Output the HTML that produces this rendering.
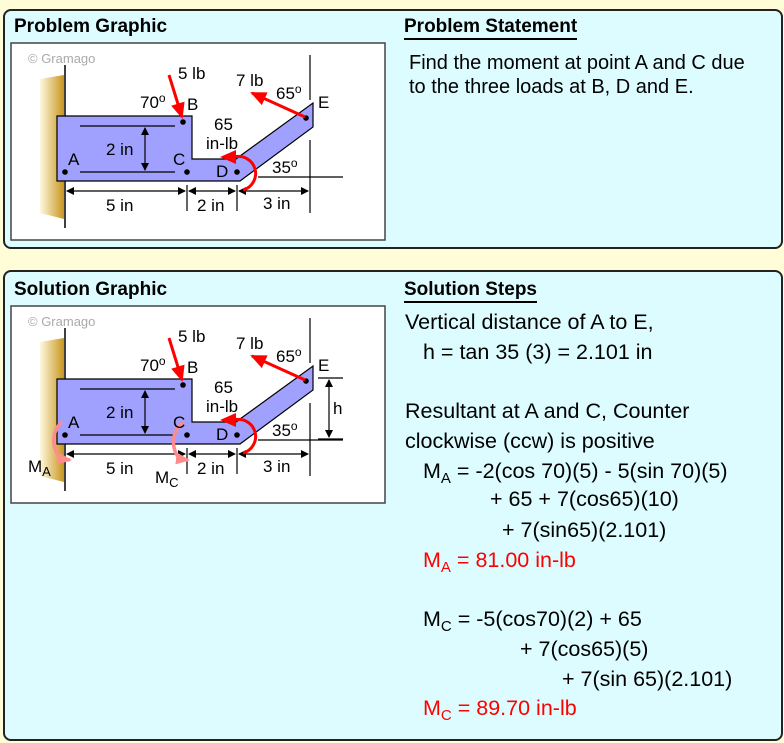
<!DOCTYPE html>
<html><head><meta charset="utf-8"><style>
body{margin:0;width:784px;height:743px;background:#fffcd8;position:relative;overflow:hidden;font-family:"Liberation Sans",Arial,sans-serif;}
.panel{position:absolute;left:3px;width:776px;background:#dcfcff;border:2px solid #222;border-radius:8px;}
.t{position:absolute;font-size:21.5px;color:#000;white-space:nowrap;}
.s{font-size:20px;}
.h{position:absolute;font-weight:bold;font-size:19px;}
.u{border-bottom:2px solid #000;padding-bottom:0px;}
.r{color:#f00;}
sub{font-size:15px;vertical-align:-5px;line-height:0;}
svg{position:absolute;left:0;top:0;z-index:2;}
</style></head><body>
<div class="panel" style="top:9px;height:236px;"></div>
<div class="panel" style="top:270px;height:467px;"></div>
<div class="h" style="left:14px;top:16px;">Problem Graphic</div>
<div class="h u" style="left:404px;top:16px;">Problem Statement</div>
<div class="h" style="left:14px;top:279px;">Solution Graphic</div>
<div class="h u" style="left:404px;top:279px;">Solution Steps</div>
<div class="t s" style="left:409px;top:52px;">Find the moment at point A and C due</div>
<div class="t s" style="left:409px;top:76px;">to the three loads at B, D and E.</div>

<div class="t" style="left:405px;top:310px;">Vertical distance of A to E,</div>
<div class="t" style="left:423px;top:340px;">h = tan 35 (3) = 2.101 in</div>
<div class="t" style="left:405px;top:399px;">Resultant at A and C, Counter</div>
<div class="t" style="left:405px;top:429px;">clockwise (ccw) is positive</div>
<div class="t" style="left:423px;top:459px;">M<sub>A</sub> = -2(cos 70)(5) - 5(sin 70)(5)</div>
<div class="t" style="left:490px;top:487px;">+ 65 + 7(cos65)(10)</div>
<div class="t" style="left:502px;top:518px;">+ 7(sin65)(2.101)</div>
<div class="t r" style="left:423px;top:548px;">M<sub>A</sub> = 81.00 in-lb</div>
<div class="t" style="left:423px;top:607px;">M<sub>C</sub> = -5(cos70)(2) + 65</div>
<div class="t" style="left:520px;top:637px;">+ 7(cos65)(5)</div>
<div class="t" style="left:562px;top:667px;">+ 7(sin 65)(2.101)</div>
<div class="t r" style="left:423px;top:696px;">M<sub>C</sub> = 89.70 in-lb</div>

<svg width="784" height="743" viewBox="0 0 784 743">
<defs>
<linearGradient id="wg" x1="0" x2="1"><stop offset="0" stop-color="#fff8e0"/><stop offset="1" stop-color="#c8961e"/></linearGradient>
<marker id="ar" markerWidth="8" markerHeight="8" refX="7" refY="4" orient="auto-start-reverse" markerUnits="userSpaceOnUse"><path d="M0,0L8,4L0,8z" fill="#000"/></marker>
<marker id="rr" markerWidth="16" markerHeight="14" refX="14" refY="7" orient="auto" markerUnits="userSpaceOnUse"><path d="M0,0L16,7L0,14z" fill="#f00"/></marker>
<marker id="pr" markerWidth="14" markerHeight="12" refX="12" refY="6" orient="auto" markerUnits="userSpaceOnUse"><path d="M0,0L14,6L0,12z" fill="#ff8c8c"/></marker>
</defs>
<g font-family="Liberation Sans, Arial, sans-serif">
<rect x="11" y="43" width="374" height="197" fill="#fff" stroke="#444" stroke-width="1.5"/>
<text x="28" y="63" font-size="13" fill="#aaa">© Gramago</text>
<path d="M40,79 L64,75 L64,219 L40,213 Z" fill="url(#wg)"/>
<line x1="65" y1="65" x2="65" y2="228" stroke="#000" stroke-width="1.5"/>
<path d="M57,116 L192,116 L192,159 L236,159 L240,156 L313,103 L313,127 L240,181 L57,181 Z" fill="#a0a0ff" stroke="#000" stroke-width="1.2"/>
<g stroke="#000" stroke-width="1.2">
<line x1="80" y1="126" x2="175" y2="126"/><line x1="80" y1="172" x2="175" y2="172"/>
<line x1="145" y1="128" x2="145" y2="170" marker-start="url(#ar)" marker-end="url(#ar)"/>
<line x1="67" y1="191" x2="185" y2="191" marker-start="url(#ar)" marker-end="url(#ar)"/>
<line x1="189" y1="191" x2="235" y2="191" marker-start="url(#ar)" marker-end="url(#ar)"/>
<line x1="239" y1="191" x2="308" y2="191" marker-start="url(#ar)" marker-end="url(#ar)"/>
<line x1="187" y1="185" x2="187" y2="211"/><line x1="237" y1="185" x2="237" y2="211"/>
<line x1="310" y1="55" x2="310" y2="100"/><line x1="310" y1="140" x2="310" y2="213"/>
<line x1="258" y1="177" x2="343" y2="177"/>
</g>
<g fill="#000"><circle cx="65" cy="172" r="2.8"/><circle cx="183" cy="122" r="2.8"/><circle cx="187" cy="172" r="2.8"/><circle cx="237" cy="172" r="2.8"/><circle cx="306" cy="118" r="2.8"/></g>
<line x1="169" y1="75" x2="182" y2="117" stroke="#f00" stroke-width="3" marker-end="url(#rr)"/>
<line x1="305" y1="117" x2="252" y2="93" stroke="#f00" stroke-width="3" marker-end="url(#rr)"/>
<path d="M243,190 A14,14 0 0 0 234,157 L226,157" fill="none" stroke="#f00" stroke-width="3"/>
<path d="M220,157 L236,150 L236,164 Z" fill="#f00"/>
<g font-size="17" fill="#000">
<text x="178" y="79">5 lb</text><text x="140" y="108">70<tspan font-size="12" dy="-6">o</tspan></text>
<text x="187" y="110">B</text><text x="236" y="86">7 lb</text>
<text x="276" y="99">65<tspan font-size="12" dy="-6">o</tspan></text><text x="318" y="108">E</text>
<text x="214" y="130">65</text><text x="206" y="149">in-lb</text>
<text x="106" y="155">2 in</text><text x="68" y="165">A</text><text x="173" y="165">C</text><text x="216" y="177">D</text>
<text x="272" y="173">35<tspan font-size="12" dy="-6">o</tspan></text>
<text x="106" y="211">5 in</text><text x="197" y="211">2 in</text><text x="263" y="209">3 in</text>
</g>
</g>
<g font-family="Liberation Sans, Arial, sans-serif" transform="translate(0,263)">
<rect x="11" y="43" width="374" height="197" fill="#fff" stroke="#444" stroke-width="1.5"/>
<text x="28" y="63" font-size="13" fill="#aaa">© Gramago</text>
<path d="M40,79 L64,75 L64,219 L40,213 Z" fill="url(#wg)"/>
<line x1="65" y1="65" x2="65" y2="228" stroke="#000" stroke-width="1.5"/>
<path d="M57,116 L192,116 L192,159 L236,159 L240,156 L313,103 L313,127 L240,181 L57,181 Z" fill="#a0a0ff" stroke="#000" stroke-width="1.2"/>
<g stroke="#000" stroke-width="1.2">
<line x1="80" y1="126" x2="175" y2="126"/><line x1="80" y1="172" x2="175" y2="172"/>
<line x1="145" y1="128" x2="145" y2="170" marker-start="url(#ar)" marker-end="url(#ar)"/>
<line x1="67" y1="191" x2="185" y2="191" marker-start="url(#ar)" marker-end="url(#ar)"/>
<line x1="189" y1="191" x2="235" y2="191" marker-start="url(#ar)" marker-end="url(#ar)"/>
<line x1="239" y1="191" x2="308" y2="191" marker-start="url(#ar)" marker-end="url(#ar)"/>
<line x1="187" y1="185" x2="187" y2="211"/><line x1="237" y1="185" x2="237" y2="211"/>
<line x1="310" y1="55" x2="310" y2="100"/><line x1="310" y1="140" x2="310" y2="213"/>
<line x1="258" y1="177" x2="343" y2="177"/>
<line x1="318" y1="115" x2="343" y2="115"/><line x1="318" y1="176" x2="343" y2="176"/>
<line x1="329" y1="117" x2="329" y2="174" marker-start="url(#ar)" marker-end="url(#ar)"/>
</g>
<g fill="#000"><circle cx="65" cy="172" r="2.8"/><circle cx="183" cy="122" r="2.8"/><circle cx="187" cy="172" r="2.8"/><circle cx="237" cy="172" r="2.8"/><circle cx="306" cy="118" r="2.8"/></g>
<line x1="169" y1="75" x2="182" y2="117" stroke="#f00" stroke-width="3" marker-end="url(#rr)"/>
<line x1="305" y1="117" x2="252" y2="93" stroke="#f00" stroke-width="3" marker-end="url(#rr)"/>
<path d="M243,190 A14,14 0 0 0 234,157 L226,157" fill="none" stroke="#f00" stroke-width="3"/>
<path d="M220,157 L236,150 L236,164 Z" fill="#f00"/>
<path d="M62,159 A18,22 0 0 0 62,196 L70,197" fill="none" stroke="#ff8c8c" stroke-width="3.5" marker-end="url(#pr)"/>
<path d="M184,159 A18,22 0 0 0 180,196 L188,197" fill="none" stroke="#ff8c8c" stroke-width="3.5" marker-end="url(#pr)"/>
<g font-size="17" fill="#000">
<text x="178" y="79">5 lb</text><text x="140" y="108">70<tspan font-size="12" dy="-6">o</tspan></text>
<text x="187" y="110">B</text><text x="236" y="86">7 lb</text>
<text x="276" y="99">65<tspan font-size="12" dy="-6">o</tspan></text><text x="318" y="108">E</text>
<text x="214" y="130">65</text><text x="206" y="149">in-lb</text>
<text x="106" y="155">2 in</text><text x="68" y="165">A</text><text x="173" y="165">C</text><text x="216" y="177">D</text>
<text x="272" y="173">35<tspan font-size="12" dy="-6">o</tspan></text>
<text x="106" y="211">5 in</text><text x="197" y="211">2 in</text><text x="263" y="209">3 in</text>
<text x="333" y="151">h</text>
<text x="28" y="209">M<tspan font-size="13" dy="4">A</tspan></text>
<text x="155" y="220">M<tspan font-size="13" dy="4">C</tspan></text>
</g>
</g>
</svg>
</body></html>
